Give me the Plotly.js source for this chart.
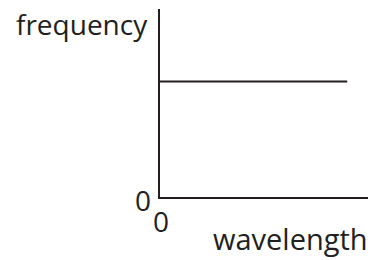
<!DOCTYPE html>
<html><head><meta charset="utf-8">
<script src="https://cdn.plot.ly/plotly-3.0.1.min.js"></script>
<style>html,body{margin:0;padding:0;background:#fff}#c{width:373px;height:260px}</style>
</head><body><div id="c"></div>
<script>
// data
const wavelength = [0, 0.9];
const frequency = [0.615, 0.615];
const xTickLabel = ["0"];
const yTickLabel = ["0"];
const xAxisLabel = "wavelength";
const yAxisLabel = "frequency";

const ink = "#231f20";
const fnt = {family: "Open Sans, sans-serif", size: 28, color: ink};
const fntX = {family: "Open Sans, sans-serif", size: 29, color: ink};
const fnt0 = {family: "Open Sans, sans-serif", size: 28, color: ink};
const L = 160, R = 368, T = 9, B = 196.7;
const px = v => (v - L) / (R - L);
const py = v => (B - v) / (B - T);

Plotly.newPlot("c", [{
  x: wavelength, y: frequency, mode: "lines", type: "scatter",
  line: {color: ink, width: 2}, hoverinfo: "skip", showlegend: false
}], {
  width: 373, height: 260,
  margin: {l: L, r: 373 - R, t: T, b: 260 - B, pad: 0},
  paper_bgcolor: "#fff", plot_bgcolor: "#fff",
  xaxis: {range: [0, 1], showgrid: false, zeroline: false, showline: true, linecolor: ink, linewidth: 2,
          showticklabels: false, ticks: "", fixedrange: true},
  yaxis: {range: [0, 1], showgrid: false, zeroline: false, showline: true, linecolor: ink, linewidth: 2,
          showticklabels: false, ticks: "", fixedrange: true},
  annotations: [
    {xref: "paper", yref: "paper", x: px(150), y: py(24), xanchor: "right", yanchor: "middle", text: yAxisLabel, showarrow: false, font: fnt},
    {xref: "paper", yref: "paper", x: px(370), y: py(238), xanchor: "right", yanchor: "middle", text: xAxisLabel, showarrow: false, font: fntX},
    {xref: "paper", yref: "paper", x: px(153), y: py(200), xanchor: "right", yanchor: "middle", text: yTickLabel[0], showarrow: false, font: fnt0},
    {xref: "paper", yref: "paper", x: px(161), y: py(221), xanchor: "center", yanchor: "middle", text: xTickLabel[0], showarrow: false, font: fnt0}
  ]
}, {staticPlot: true, displayModeBar: false});
</script></body></html>
